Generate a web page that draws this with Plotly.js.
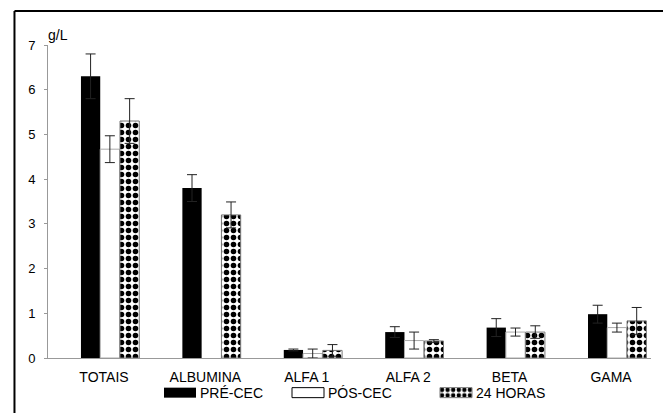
<!DOCTYPE html>
<html>
<head>
<meta charset="utf-8">
<script src="https://cdn.plot.ly/plotly-3.0.1.min.js"></script>
<style>
html,body{margin:0;padding:0;background:#fff;}
#chart{width:663px;height:413px;}
</style>
</head>
<body>
<div id="chart"></div>
<script>
const categories = ['TOTAIS', 'ALBUMINA', 'ALFA 1', 'ALFA 2', 'BETA', 'GAMA'];
const seriesNames = ['PRÉ-CEC', 'PÓS-CEC', '24 HORAS'];
const preMean = [6.3, 3.8, 0.18, 0.58, 0.68, 0.98];
const preSd   = [0.5, 0.3, 0.02, 0.12, 0.2, 0.2];
const posMean = [4.67, null, 0.1, 0.39, 0.58, 0.68];
const posSd   = [0.3, 0, 0.1, 0.19, 0.09, 0.1];
const h24Mean = [5.3, 3.2, 0.17, 0.38, 0.58, 0.83];
const h24Sd   = [0.5, 0.29, 0.13, 0.03, 0.14, 0.3];
const yTicks = [0, 1, 2, 3, 4, 5, 6, 7];
const unitLabel = 'g/L';

const FONT = 'Liberation Sans, Arial, sans-serif';
const errStyle = (arr) => ({type: 'data', array: arr, visible: true, color: '#222', thickness: 1, width: 5});

const data = [
  {
    type: 'bar', name: seriesNames[0], x: categories, y: preMean,
    error_y: errStyle(preSd),
    offset: -0.227, width: 0.19,
    marker: {color: '#000', line: {color: '#000', width: 0}},
    legend: 'legend'
  },
  {
    type: 'bar', name: seriesNames[1], x: categories, y: posMean,
    error_y: errStyle(posSd),
    offset: -0.037, width: 0.19,
    marker: {color: '#fff', line: {color: '#aaa', width: 1}},
    legend: 'legend2'
  },
  {
    type: 'bar', name: seriesNames[2], x: categories, y: h24Mean,
    error_y: errStyle(h24Sd),
    offset: 0.158, width: 0.19,
    marker: {color: '#fff', line: {color: '#777', width: 1},
             pattern: {shape: '.', fgcolor: '#000', bgcolor: '#fff', size: 7, solidity: 0.5}},
    legend: 'legend3'
  }
];

const legBase = {orientation: 'h', yanchor: 'middle', xanchor: 'left', y: -0.112,
  font: {family: FONT, size: 14, color: '#000'}, bgcolor: 'rgba(0,0,0,0)', borderwidth: 0};

const layout = {
  width: 663, height: 413,
  margin: {l: 48, r: 12, t: 45, b: 55, autoexpand: false},
  paper_bgcolor: '#fff', plot_bgcolor: '#fff',
  font: {family: FONT, size: 13, color: '#000'},
  barmode: 'overlay',
  showlegend: true,
  legend: Object.assign({}, legBase, {x: (160 - 48) / 603}),
  legend2: Object.assign({}, legBase, {x: (288 - 48) / 603}),
  legend3: Object.assign({}, legBase, {x: (436 - 48) / 603}),
  xaxis: {
    type: 'category', range: [-0.552, 5.394],
    showline: true, linecolor: '#999', linewidth: 1,
    ticks: '', showgrid: false, zeroline: false,
    tickfont: {family: FONT, size: 14, color: '#000'},
    ticklabelstandoff: 6
  },
  yaxis: {
    range: [0, 7], tickvals: yTicks, ticktext: yTicks.map(String),
    showline: true, linecolor: '#999', linewidth: 1,
    ticks: 'outside', ticklen: 3, tickcolor: '#999', tickwidth: 1,
    showgrid: false, zeroline: false,
    tickfont: {family: FONT, size: 13, color: '#000'},
    ticklabelstandoff: 6
  },
  yaxis2: {
    overlaying: 'y', anchor: 'x', side: 'left', range: [0, 7], tickvals: yTicks,
    ticks: 'inside', ticklen: 5, tickcolor: '#999', tickwidth: 1,
    showticklabels: false, showline: false, showgrid: false, zeroline: false
  },
  annotations: [{
    text: unitLabel, xref: 'paper', yref: 'paper', x: 0, y: 1,
    xanchor: 'left', yanchor: 'bottom', xshift: -2, yshift: 0, showarrow: false,
    font: {family: FONT, size: 14, color: '#000'}
  }],
  shapes: [
    {type: 'line', xref: 'paper', yref: 'paper', x0: -0.0556, x1: -0.0556, y0: -0.3, y1: 1.1086,
     line: {color: '#000', width: 2}},
    {type: 'line', xref: 'paper', yref: 'paper', x0: -0.0556, x1: 1.05, y0: 1.1086, y1: 1.1086,
     line: {color: '#000', width: 2}}
  ]
};

Plotly.newPlot('chart', data, layout, {displayModeBar: false, staticPlot: true}).then(function () {
  document.querySelectorAll('.legendpoints path').forEach(function (p) {
    p.setAttribute('d', 'M16,5H-16V-5H16Z');
  });
  document.querySelectorAll('.legend2 .legendpoints path').forEach(function (p) {
    p.style.stroke = '#000';
  });
});
</script>
</body>
</html>
